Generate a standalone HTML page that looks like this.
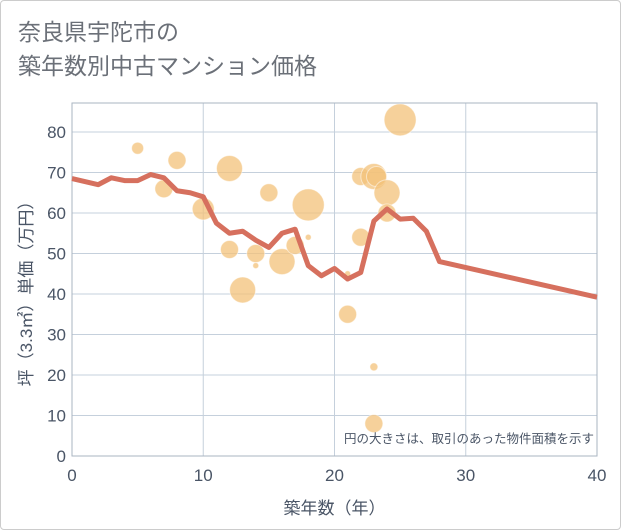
<!DOCTYPE html>
<html><head><meta charset="utf-8"><style>
body{margin:0;background:#fff;font-family:"Liberation Sans","Noto Sans CJK JP",sans-serif}
#wrap{position:relative;width:619px;height:528px;border:1px solid #ccc;border-radius:4px;overflow:hidden}
.title{position:absolute;left:17px;top:14px;font-size:23px;line-height:34px;color:#6b7078;margin:0;font-weight:normal}
</style></head><body>
<div id="wrap">
<h1 class="title">奈良県宇陀市の<br>築年数別中古マンション価格</h1>
<svg id="chart" width="621" height="530" style="position:absolute;left:-1px;top:-1px"></svg>
</div>
<script>
const lineX=[0,2,3,4,5,6,7,8,9,10,11,12,13,14,15,16,17,18,19,20,21,22,23,24,25,26,27,28,40];
const lineY=[68.5,67,68.7,68,68,69.5,68.7,65.5,65,64,57.5,55,55.5,53.3,51.5,55,56,47,44.5,46.3,43.7,45.3,58,61,58.5,58.7,55.5,48,39.2];
const bubX=[5,8,7,10,12,12,13,14,14,15,16,17,18,18,21,21,22,22,23,23.2,23,23,24,24,25];
const bubY=[76,73,66,61,71,51,41,50,47,65,48,52,62,54,35,45,69,54,69,69,22,8,65,60,83];
const bubR=[6,9,9,11,13,9,13,9,3,9,13,9,16,3,9,3,9,9,13,10,4,9,13,9,16];
const xTicks=[0,10,20,30,40];
const yTicks=[0,10,20,30,40,50,60,70,80];
const L=72,R=597,T=103,B=456;
const sx=v=>L+(R-L)*v/40, sy=v=>B-(B-132)*v/80;
const svg=document.getElementById('chart');const NS='http://www.w3.org/2000/svg';
function el(t,a,p){const e=document.createElementNS(NS,t);for(const k in a)e.setAttribute(k,a[k]);(p||svg).appendChild(e);return e;}
const grid=el('g',{});


yTicks.forEach(v=>{el('line',{x1:L,x2:R,y1:sy(v),y2:sy(v),stroke:'#c5d0dc','stroke-width':1},grid);
const t=el('text',{x:L-6,y:sy(v)+6,'text-anchor':'end','font-size':17,fill:'#4a5566'});t.textContent=v;

});
xTicks.forEach(v=>{el('line',{x1:sx(v),x2:sx(v),y1:T,y2:B,stroke:'#c5d0dc','stroke-width':1},grid);
const t=el('text',{x:sx(v),y:B+25,'text-anchor':'middle','font-size':17,fill:'#4a5566'});t.textContent=v;

});
const frame=el('rect',{x:L,y:T,width:R-L,height:B-T,fill:'none',stroke:'#aab5c2'});


bubX.forEach((x,i)=>{const c=el('circle',{cx:sx(x),cy:sy(bubY[i]),r:bubR[i],fill:'#f3c27a','fill-opacity':0.75,stroke:'#fff','stroke-opacity':0.5});

});
const pl=el('polyline',{points:lineX.map((x,i)=>sx(x)+','+sy(lineY[i])).join(' '),fill:'none',stroke:'#d6705e','stroke-width':5,'stroke-linejoin':'round'});


const note=el('text',{x:R-3,y:443,'text-anchor':'end','font-size':12.5,fill:'#4a5566'});note.textContent='円の大きさは、取引のあった物件面積を示す';


const xt=el('text',{x:(L+R)/2,y:514,'text-anchor':'middle','font-size':17,fill:'#4a5566'});xt.textContent='築年数（年）';


const yt=el('text',{x:0,y:0,'text-anchor':'middle','font-size':17,fill:'#4a5566',transform:'translate(32,'+((T+B)/2+10)+') rotate(-90)'});yt.textContent='坪（3.3㎡）単価（万円）';


</script>
</body></html>
